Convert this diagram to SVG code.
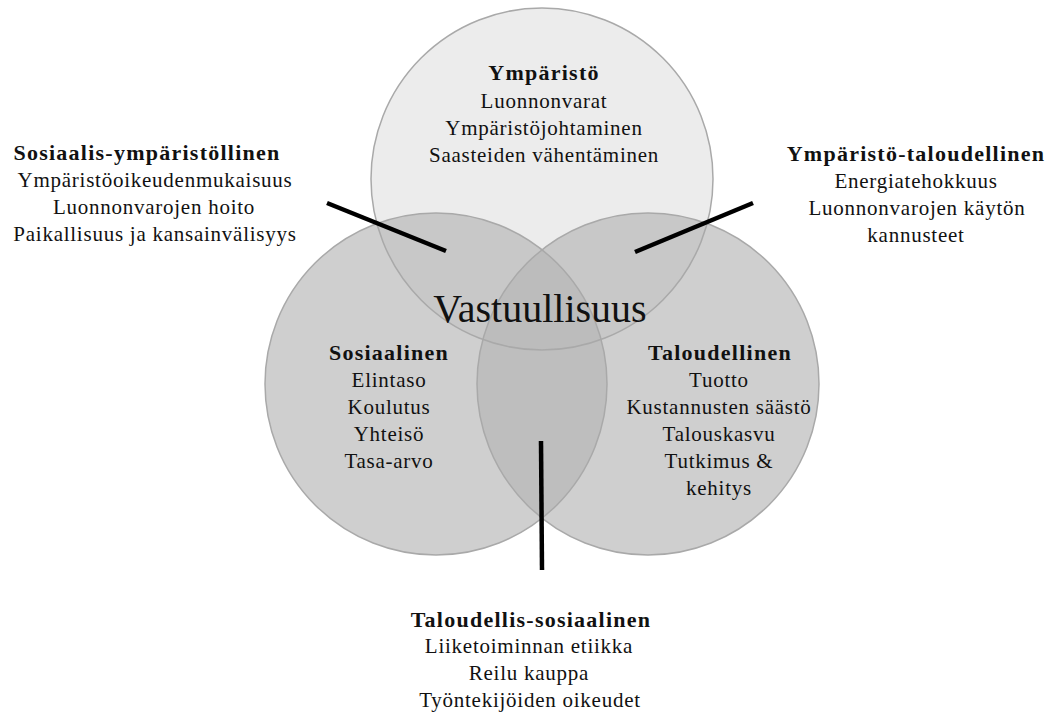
<svg xmlns="http://www.w3.org/2000/svg" width="1053" height="716" viewBox="0 0 1053 716">
<style>
.t{font-family:"Liberation Serif","Times New Roman",serif;fill:#111;text-anchor:middle}
.r{font-size:21px;letter-spacing:0.75px}
.b{font-size:22px;font-weight:bold;letter-spacing:1.25px}
.big{font-size:40px}
.ring{fill:none;stroke:#a9a9a9;stroke-width:1.5}
.conn{stroke:#000;stroke-width:4.5;stroke-linecap:butt}
</style>
<rect width="1053" height="716" fill="#fff"/>
<g id="fills">
<circle cx="542" cy="179" r="171" fill="#ececec"/>
<circle cx="436" cy="384" r="171" fill="#b5b5b5" fill-opacity="0.65"/>
<circle cx="648" cy="384" r="171" fill="#b5b5b5" fill-opacity="0.65"/>
</g>
<g id="outlines">
<circle class="ring" cx="542" cy="179" r="171"/>
<circle class="ring" cx="436" cy="384" r="171"/>
<circle class="ring" cx="648" cy="384" r="171"/>
</g>
<g id="connectors">
<line class="conn" x1="327" y1="203" x2="446" y2="251"/>
<line class="conn" x1="753" y1="203" x2="635" y2="252"/>
<line class="conn" x1="541" y1="441" x2="542" y2="570"/>
</g>
<g id="ymparisto">
<text class="t b" x="544" y="80">Ympäristö</text>
<text class="t r" x="544" y="108">Luonnonvarat</text>
<text class="t r" x="544" y="135">Ympäristöjohtaminen</text>
<text class="t r" x="544" y="162">Saasteiden vähentäminen</text>
</g>
<g id="sosiaalinen">
<text class="t b" x="389" y="360">Sosiaalinen</text>
<text class="t r" x="389" y="387">Elintaso</text>
<text class="t r" x="389" y="414">Koulutus</text>
<text class="t r" x="389" y="441">Yhteisö</text>
<text class="t r" x="389" y="468">Tasa-arvo</text>
</g>
<g id="taloudellinen">
<text class="t b" x="720" y="360">Taloudellinen</text>
<text class="t r" x="719" y="387">Tuotto</text>
<text class="t r" x="719" y="414">Kustannusten säästö</text>
<text class="t r" x="719" y="441">Talouskasvu</text>
<text class="t r" x="719" y="468">Tutkimus &amp;</text>
<text class="t r" x="719" y="495">kehitys</text>
</g>
<g id="vastuullisuus">
<text class="t big" x="540" y="322">Vastuullisuus</text>
</g>
<g id="sosiaalis-ymparistollinen">
<text class="t b" x="147" y="160">Sosiaalis-ympäristöllinen</text>
<text class="t r" x="155" y="187">Ympäristöoikeudenmukaisuus</text>
<text class="t r" x="154" y="214">Luonnonvarojen hoito</text>
<text class="t r" x="155" y="241">Paikallisuus ja kansainvälisyys</text>
</g>
<g id="ymparisto-taloudellinen">
<text class="t b" x="916" y="161">Ympäristö-taloudellinen</text>
<text class="t r" x="916" y="188">Energiatehokkuus</text>
<text class="t r" x="917" y="215">Luonnonvarojen käytön</text>
<text class="t r" x="916" y="242">kannusteet</text>
</g>
<g id="taloudellis-sosiaalinen">
<text class="t b" x="531" y="627">Taloudellis-sosiaalinen</text>
<text class="t r" x="529" y="653">Liiketoiminnan etiikka</text>
<text class="t r" x="529" y="680">Reilu kauppa</text>
<text class="t r" x="530" y="707">Työntekijöiden oikeudet</text>
</g>
</svg>
